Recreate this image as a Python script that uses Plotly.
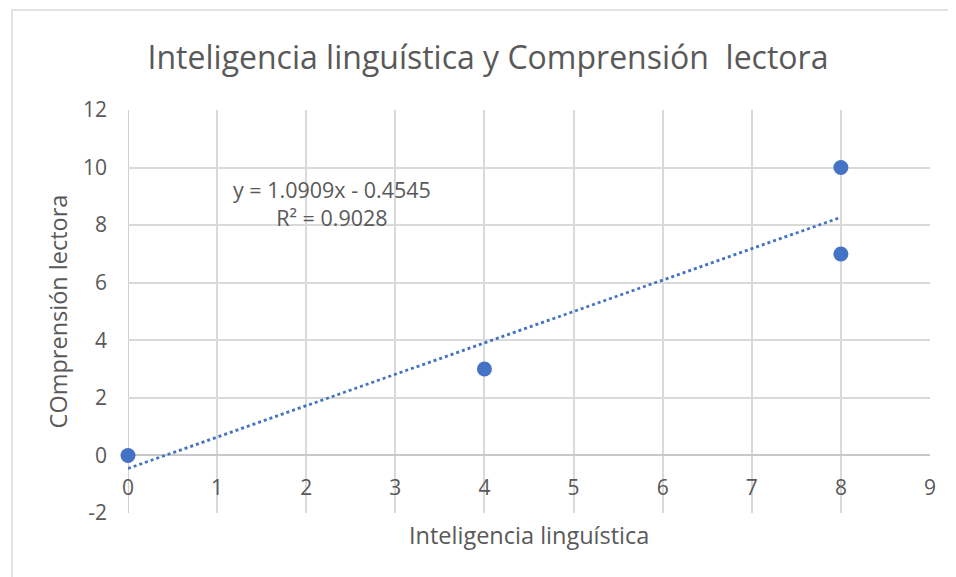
import plotly.graph_objects as go

x_vals = [0, 4, 8, 8]
y_vals = [0, 3, 7, 10]
trend_x = [0, 8]
slope = 1.0909
intercept = -0.4545
x_ticks = list(range(0, 10))
y_ticks = list(range(-2, 13, 2))

trend_y = [slope * v + intercept for v in trend_x]

gray = "#595959"
grid = "#d9d9d9"
blue = "#4472C4"
font = "Open Sans"

W, H = 948, 569
L, R, T, B = 120, 26, 102, 64
pw, ph = W - L - R, H - T - B

fig = go.Figure()
fig.add_trace(go.Scatter(x=trend_x, y=trend_y, mode="lines",
                         line=dict(color=blue, width=2.8, dash="dot"),
                         hoverinfo="skip", showlegend=False))
fig.add_trace(go.Scatter(x=x_vals, y=y_vals, mode="markers",
                         marker=dict(color=blue, size=15),
                         showlegend=False, cliponaxis=False))

ymin, ymax = -2, 12
fig.update_layout(
    width=W, height=H,
    margin=dict(l=L, r=R, t=T, b=B),
    paper_bgcolor="white", plot_bgcolor="white",
    font=dict(family=font, color=gray),
    title=dict(text="Inteligencia linguística y Comprensión  lectora",
               x=480 / W, xanchor="center", y=1 - 50 / H, yanchor="middle",
               font=dict(size=32, color=gray, family=font)),
    xaxis=dict(range=[0, 9], tickvals=x_ticks, ticktext=[str(v) for v in x_ticks],
               showgrid=True, gridcolor=grid, gridwidth=1.5,
               zeroline=False, showline=False, ticks="",
               anchor="free", position=(0 - ymin) / (ymax - ymin),
               ticklabelstandoff=18,
               tickfont=dict(size=21, color=gray)),
    yaxis=dict(range=[ymin, ymax], tickvals=y_ticks, ticktext=[str(v) for v in y_ticks],
               showgrid=True, gridcolor=grid, gridwidth=1.5,
               zeroline=True, zerolinecolor="#c8c8c8", zerolinewidth=2,
               showline=False, ticks="", ticklabelstandoff=20,
               tickfont=dict(size=21, color=gray),
               title=dict(text="COmprensión lectora", font=dict(size=23.5, color=gray), standoff=8)),
    shapes=[dict(type="rect", xref="paper", yref="paper",
                 x0=(4 - L) / pw, x1=1.2, y0=-0.5, y1=(T + ph - 2) / ph,
                 line=dict(color="#d9d9d9", width=1.5), fillcolor="rgba(0,0,0,0)",
                 layer="below"),
            dict(type="line", xref="x", yref="paper", x0=0, x1=0, y0=0, y1=1,
                 line=dict(color="#d0d0d0", width=2), layer="below")],
    annotations=[
        dict(text="y = 1.0909x - 0.4545<br>R² = 0.9028", x=2.29, y=8.75, xref="x", yref="y",
             showarrow=False, font=dict(size=21.5, color=gray), align="center"),
        dict(text="Inteligencia linguística", x=0.5, y=-(527 - (T + ph)) / ph,
             xref="paper", yref="paper",
             xanchor="center", yanchor="middle", showarrow=False,
             font=dict(size=23.5, color=gray)),
    ],
)

fig.write_html("out.html")
